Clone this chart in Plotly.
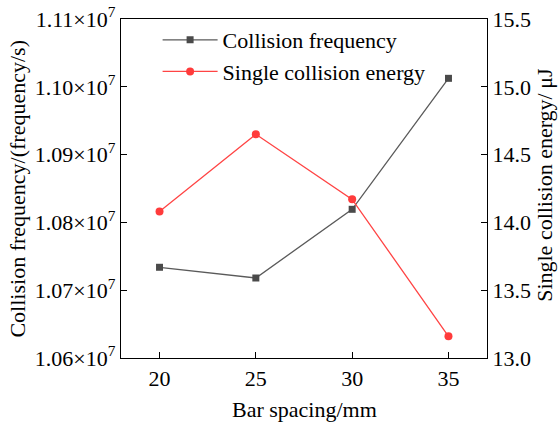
import plotly.graph_objects as go

spacing = [20, 25, 30, 35]
collision_freq = [1.07338e7, 1.0718e7, 1.08193e7, 1.10125e7]
single_energy = [14.08, 14.65, 14.17, 13.16]

left_ticks = [1.06e7, 1.07e7, 1.08e7, 1.09e7, 1.10e7, 1.11e7]
left_text = ["1.06×10<sup>7</sup>", "1.07×10<sup>7</sup>", "1.08×10<sup>7</sup>",
             "1.09×10<sup>7</sup>", "1.10×10<sup>7</sup>", "1.11×10<sup>7</sup>"]
right_ticks = [13.0, 13.5, 14.0, 14.5, 15.0, 15.5]
right_text = ["13.0", "13.5", "14.0", "14.5", "15.0", "15.5"]

x_title = "Bar spacing/mm"
y_title = "Collision frequency/(frequency/s)"
y2_title = "Single collision energy/\u2009μJ"

font = "Times New Roman"
fs = 22

fig = go.Figure()
fig.add_trace(go.Scatter(
    x=spacing, y=collision_freq, name="Collision frequency",
    mode="lines+markers",
    line=dict(color="#5a5a5a", width=1.3),
    marker=dict(symbol="square", size=7, color="#4a4a4a"),
))
fig.add_trace(go.Scatter(
    x=spacing, y=single_energy, name="Single collision energy",
    mode="lines+markers", yaxis="y2",
    line=dict(color="#ff4444", width=1.3),
    marker=dict(symbol="circle", size=8, color="#ff3b3b"),
))

fig.update_layout(
    width=558, height=426,
    margin=dict(l=121, r=71, t=19, b=68, autoexpand=False),
    paper_bgcolor="white", plot_bgcolor="white",
    font=dict(family=font, size=fs, color="black"),
    showlegend=True,
    legend=dict(x=0.1, y=1.0, xanchor="left", yanchor="top",
                bgcolor="rgba(0,0,0,0)", font=dict(family=font, size=fs),
                tracegroupgap=0, itemwidth=55),
    xaxis=dict(
        range=[18, 37], tickvals=spacing, ticktext=[str(v) for v in spacing],
        tickfont=dict(family=font, size=fs), automargin=False,
        showline=True, linecolor="black", linewidth=1.3, mirror=True,
        ticks="inside", ticklen=6, tickcolor="black", showgrid=False, zeroline=False,
    ),
    yaxis=dict(
        range=[1.06e7, 1.11e7], tickvals=left_ticks, ticktext=left_text,
        tickfont=dict(family=font, size=fs), automargin=False,
        showline=True, linecolor="black", linewidth=1.3,
        ticks="inside", ticklen=6, tickcolor="black", showgrid=False, zeroline=False,
    ),
    yaxis2=dict(
        range=[13.0, 15.5], tickvals=right_ticks, ticktext=right_text,
        tickfont=dict(family=font, size=fs), automargin=False,
        overlaying="y", side="right",
        showline=True, linecolor="black", linewidth=1.3,
        ticks="inside", ticklen=6, tickcolor="black", showgrid=False, zeroline=False,
    ),
    annotations=[
        dict(text=x_title, xref="paper", yref="paper", x=0.5, y=-0.153,
             xanchor="center", yanchor="middle", showarrow=False,
             font=dict(family=font, size=fs)),
        dict(text=y_title, xref="paper", yref="paper", x=-0.284, y=0.5,
             xanchor="center", yanchor="middle", showarrow=False, textangle=-90,
             font=dict(family=font, size=fs)),
        dict(text=y2_title, xref="paper", yref="paper", x=1.155, y=0.51,
             xanchor="center", yanchor="middle", showarrow=False, textangle=-90,
             font=dict(family=font, size=fs)),
    ],
)

fig.write_html("out.html")
